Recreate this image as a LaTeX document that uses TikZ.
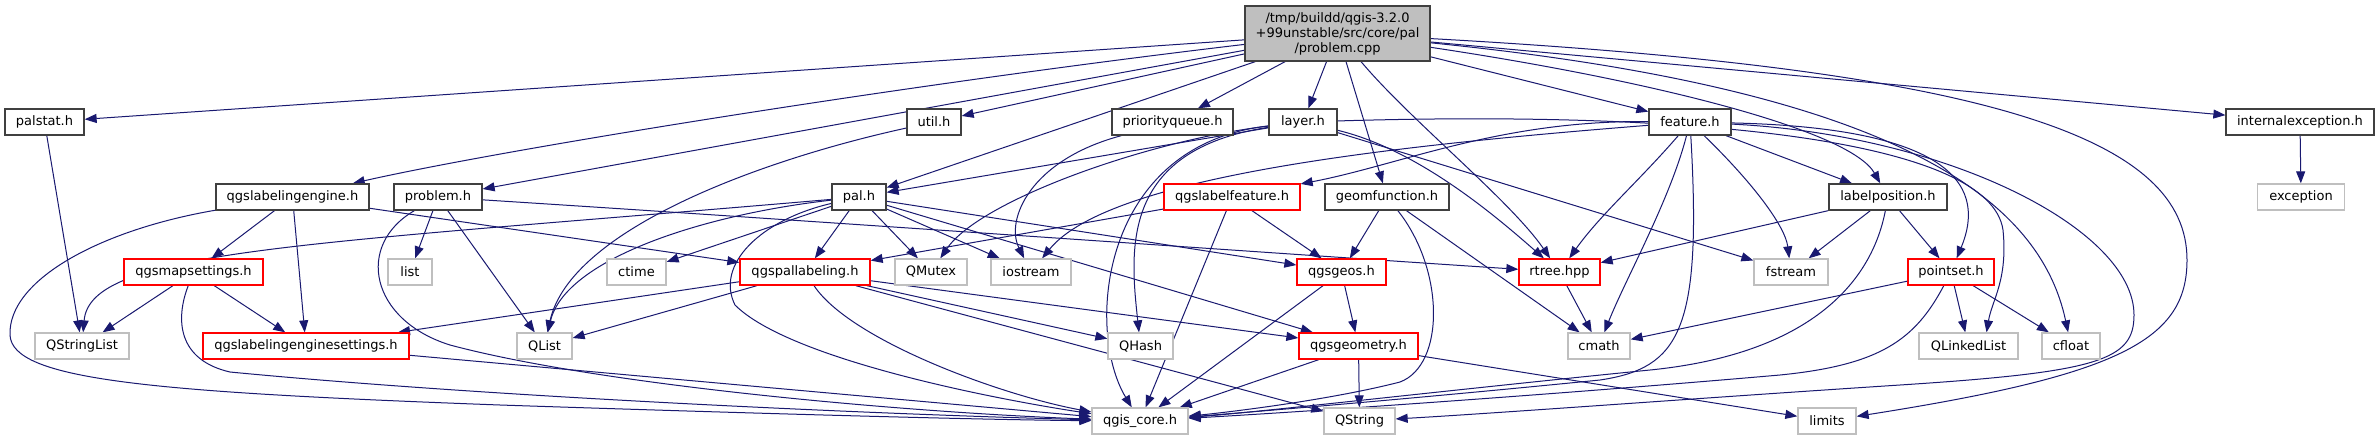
\documentclass[tikz,border=0pt]{standalone}
\usepackage{fontspec}
\setmainfont{DejaVu Sans}
\usetikzlibrary{arrows.meta}
\definecolor{edgec}{HTML}{191970}
\definecolor{bkc}{HTML}{404040}
\definecolor{grc}{HTML}{BFBFBF}
\definecolor{mainfill}{HTML}{BFBFBF}
\pgfdeclarelayer{bg}
\pgfdeclarelayer{edges}
\pgfsetlayers{bg,edges,main}
\begin{document}
\begin{tikzpicture}[x=1pt,y=-1pt,
  nd/.style={rectangle, inner sep=0pt, minimum height=26pt, line width=1.3pt, fill=white, font=\fontsize{13}{15}\selectfont},
  bn/.style={nd, draw=bkc},
  rn/.style={nd, draw=red},
  gn/.style={nd, draw=grc},
  e/.style={draw=edgec, line width=1pt, -{Triangle[length=12pt,width=9pt]}}]
\begin{pgfonlayer}{bg}
\fill[white] (0,0) rectangle (2380,440);
\end{pgfonlayer}
\useasboundingbox (0,0) rectangle (2380,440);
% rank 0
\node[nd, draw=bkc, fill=mainfill, minimum width=185pt, minimum height=55pt, align=center] (main) at (1337.5,33.5) {/tmp/buildd/qgis-3.2.0\\+99unstable/src/core/pal\\/problem.cpp};
% rank 1
\node[bn, minimum width=79pt] (palstat) at (44.5,122) {palstat.h};
\node[bn, minimum width=54pt] (util) at (934,122) {util.h};
\node[bn, minimum width=121pt] (pq) at (1172.5,122) {priorityqueue.h};
\node[bn, minimum width=68pt] (layer) at (1303,122) {layer.h};
\node[bn, minimum width=82pt] (feature) at (1690,122) {feature.h};
\node[bn, minimum width=148pt] (intexc) at (2300,122) {internalexception.h};
% rank 2
\node[bn, minimum width=153pt] (qle) at (292.5,197) {qgslabelingengine.h};
\node[bn, minimum width=88pt] (problem) at (438,197) {problem.h};
\node[bn, minimum width=54pt] (pal) at (859,197) {pal.h};
\node[rn, minimum width=136pt] (qlf) at (1232,197) {qgslabelfeature.h};
\node[bn, minimum width=124pt] (geomf) at (1387,197) {geomfunction.h};
\node[bn, minimum width=118pt] (labelpos) at (1888,197) {labelposition.h};
\node[gn, minimum width=87pt] (exception) at (2301,197) {exception};
% rank 3
\node[rn, minimum width=139pt] (qms) at (193.5,272) {qgsmapsettings.h};
\node[gn, minimum width=44pt] (list) at (410,272) {list};
\node[gn, minimum width=59pt] (ctime) at (636.5,272) {ctime};
\node[rn, minimum width=130pt] (qpl) at (805,272) {qgspallabeling.h};
\node[gn, minimum width=72pt] (qmutex) at (931,272) {QMutex};
\node[gn, minimum width=80pt] (iostream) at (1031,272) {iostream};
\node[rn, minimum width=89pt] (qgsgeos) at (1341.5,272) {qgsgeos.h};
\node[rn, minimum width=81pt] (rtree) at (1559.5,272) {rtree.hpp};
\node[gn, minimum width=74pt] (fstream) at (1791,272) {fstream};
\node[rn, minimum width=86pt] (pointset) at (1951,272) {pointset.h};
% rank 4
\node[gn, minimum width=94pt] (qsl) at (82,346) {QStringList};
\node[rn, minimum width=206pt] (qles) at (306,346) {qgslabelingenginesettings.h};
\node[gn, minimum width=55pt] (qlist) at (544.5,346) {QList};
\node[gn, minimum width=65pt] (qhash) at (1140.5,346) {QHash};
\node[rn, minimum width=119pt] (qgeom) at (1358.5,346) {qgsgeometry.h};
\node[gn, minimum width=62pt] (cmath) at (1599,346) {cmath};
\node[gn, minimum width=99pt] (qll) at (1968.5,346) {QLinkedList};
\node[gn, minimum width=58pt] (cfloat) at (2071,346) {cfloat};
% rank 5
\node[gn, minimum width=96pt] (qcore) at (1140,421) {qgis\_core.h};
\node[gn, minimum width=71pt] (qstring) at (1359.5,421) {QString};
\node[gn, minimum width=58pt] (limits) at (1827,421) {limits};

\begin{pgfonlayer}{edges}
% main
\draw[e] (main) -- (palstat);
\draw[e] (main) .. controls (900,85) and (500,150) .. (qle);
\draw[e] (main) -- (problem);
\draw[e] (main) -- (util);
\draw[e] (main) -- (pal);
\draw[e] (main) -- (pq);
\draw[e] (main) -- (layer);
\draw[e] (main) -- (geomf);
\draw[e] (main) .. controls (1410,120) and (1510,200) .. (rtree);
\draw[e] (main) -- (feature);
\draw[e] (main) .. controls (1650,80) and (1850,130) .. (labelpos);
\draw[e] (main) -- (intexc);
\draw[e] (main) .. controls (1900,90) and (2040,200) .. (cfloat);
\draw[e] (main) .. controls (2000,70) and (2187,140) .. (2187,260) .. controls (2187,340) and (2120,375) .. (limits);
% rank 1
\draw[e] (intexc) -- (exception);
\draw[e] (palstat) -- (qsl);
\draw[e] (util) .. controls (760,160) and (570,230) .. (qlist);
\draw[e] (pq) .. controls (1030,160) and (1005,220) .. (iostream);
\draw[e] (layer) -- (pal);
\draw[e] (layer) .. controls (1150,140) and (980,200) .. (qmutex);
\draw[e] (layer) .. controls (1120,150) and (1130,250) .. (qhash);
\draw[e] (layer) .. controls (1100,145) and (1085,330) .. (qcore);
\draw[e] (layer) .. controls (1420,150) and (1500,220) .. (rtree);
\draw[e] (layer) -- (fstream);
\draw[e] (layer) .. controls (1700,110) and (1990,140) .. (2003,230) .. controls (2008,280) and (1992,300) .. ([xshift=18pt]qll.north);
\draw[e] (feature) .. controls (1500,120) and (1400,165) .. (qlf);
\draw[e] (feature) .. controls (1400,145) and (1110,175) .. (iostream);
\draw[e] (feature) .. controls (1640,180) and (1600,215) .. (rtree);
\draw[e] (feature) .. controls (1670,200) and (1625,280) .. (cmath);
\draw[e] (feature) .. controls (1702,330) and (1680,368) .. (1600,380) .. controls (1400,400) and (1250,412) .. (qcore);
\draw[e] (feature) .. controls (1750,180) and (1785,225) .. (fstream);
\draw[e] (feature) -- (labelpos);
\draw[e] (feature) .. controls (1960,128) and (1985,190) .. (pointset);
\draw[e] (feature) .. controls (1950,135) and (2134,230) .. (2134,315) .. controls (2134,360) and (2100,372) .. (1900,385) .. controls (1700,398) and (1500,413) .. (qstring);
% rank 2
\draw[e] (qle) -- (qms);
\draw[e] (qle) -- (qles);
\draw[e] (qle) -- (qpl);
\draw[e] (qle) .. controls (100,230) and (8,280) .. (10,335) .. controls (12,380) and (150,392) .. (500,405) .. controls (800,415) and (1000,420) .. (qcore);
\draw[e] (problem) -- (list);
\draw[e] (problem) -- (qlist);
\draw[e] (problem) .. controls (355,245) and (370,320) .. (450,345) .. controls (600,385) and (900,412) .. (qcore);
\draw[e] (problem) .. controls (800,220) and (1300,255) .. (rtree);
\draw[e] (pal) .. controls (300,245) and (90,250) .. (qsl);
\draw[e] (pal) .. controls (700,215) and (565,260) .. (qlist);
\draw[e] (pal) -- (ctime);
\draw[e] (pal) -- (qpl);
\draw[e] (pal) -- (qmutex);
\draw[e] (pal) -- (iostream);
\draw[e] (pal) -- (qgsgeos);
\draw[e] (pal) -- (qgeom);
\draw[e] (pal) .. controls (760,220) and (715,265) .. (735,305) .. controls (790,360) and (1000,400) .. (qcore);
\draw[e] (qlf) -- (qpl);
\draw[e] (qlf) -- (qgsgeos);
\draw[e] (qlf) -- (qcore);
\draw[e] (geomf) -- (qgsgeos);
\draw[e] (geomf) -- (cmath);
\draw[e] (geomf) .. controls (1445,270) and (1445,365) .. (1400,382) .. controls (1330,400) and (1230,412) .. (qcore);
\draw[e] (labelpos) -- (rtree);
\draw[e] (labelpos) -- (fstream);
\draw[e] (labelpos) -- (pointset);
\draw[e] (labelpos) .. controls (1870,290) and (1800,355) .. (1650,370) .. controls (1450,390) and (1260,412) .. (qcore);
% rank 3
\draw[e] (qms) -- (qsl);
\draw[e] (qms) -- (qles);
\draw[e] (qms) .. controls (175,320) and (178,360) .. (230,372) .. controls (500,398) and (900,415) .. (qcore);
\draw[e] (qpl) -- (qles);
\draw[e] (qpl) -- (qlist);
\draw[e] (qpl) -- (qhash);
\draw[e] (qpl) -- (qgeom);
\draw[e] (qpl) -- (qstring);
\draw[e] (qpl) .. controls (850,340) and (1000,395) .. (qcore);
\draw[e] (qgsgeos) -- (qgeom);
\draw[e] (qgsgeos) -- (qcore);
\draw[e] (rtree) -- (cmath);
\draw[e] (pointset) -- (cmath);
\draw[e] (pointset) -- (qll);
\draw[e] (pointset) -- (cfloat);
\draw[e] (pointset) .. controls (1915,340) and (1880,365) .. (1780,375) .. controls (1550,395) and (1300,412) .. (qcore);
% rank 4
\draw[e] (qles) -- (qcore);
\draw[e] (qgeom) -- (qcore);
\draw[e] (qgeom) -- (qstring);
\draw[e] (qgeom) -- (limits);
\end{pgfonlayer}
\end{tikzpicture}
\end{document}
